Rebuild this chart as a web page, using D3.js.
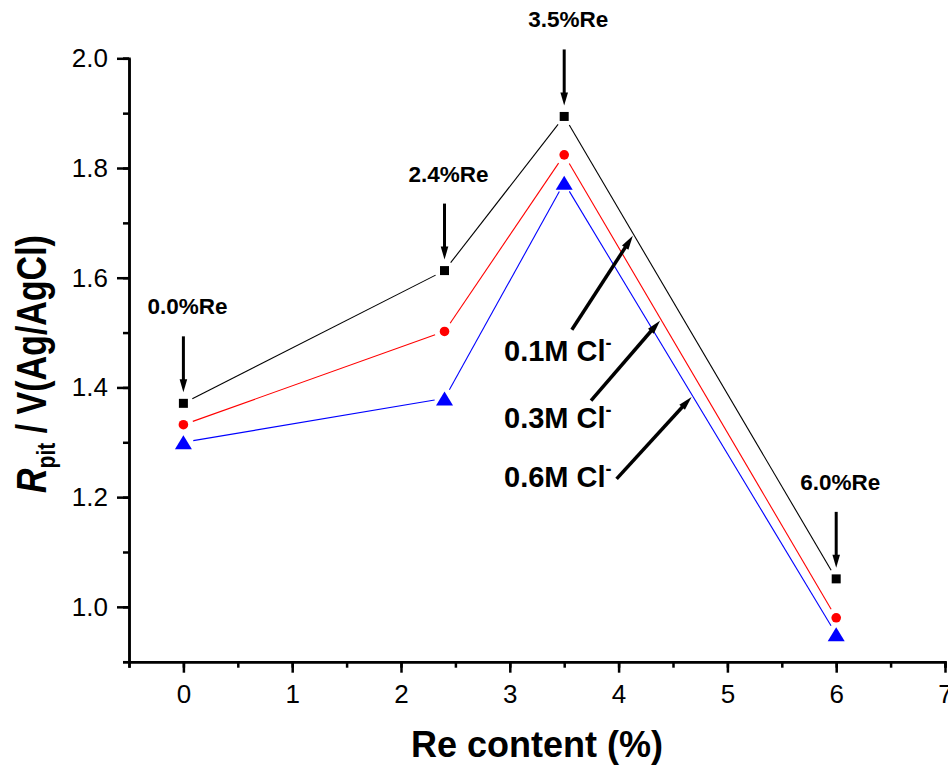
<!DOCTYPE html>
<html>
<head>
<meta charset="utf-8">
<script src="https://cdn.jsdelivr.net/npm/d3@7"></script>
<style>
  html, body { margin: 0; padding: 0; background: #fff; }
  svg { display: block; font-family: "Liberation Sans", Arial, sans-serif; }
</style>
</head>
<body>
<svg id="chart" width="948" height="765"></svg>
<script>
// Re content of the alloys (%)
const reContent = [0, 2.4, 3.5, 6.0];
// Pitting potential for each chloride concentration
const rpit01 = [1.371, 1.613, 1.894, 1.051];
const rpit03 = [1.332, 1.502, 1.824, 0.980];
const rpit06 = [1.300, 1.380, 1.773, 0.950];
const seriesNames = ["0.1M Cl", "0.3M Cl", "0.6M Cl"];
const reLabels = ["0.0%Re", "2.4%Re", "3.5%Re", "6.0%Re"];
// where each concentration label arrow touches its line (x in Re %)
const labelTargetX = [4.14, 4.39, 4.68];
const xTickValues = [0, 1, 2, 3, 4, 5, 6, 7];
const yTickValues = [1.0, 1.2, 1.4, 1.6, 1.8, 2.0];

const svg = d3.select("#chart");
const plot = { left: 129, right: 945, top: 58.3, bottom: 661.7 };

const x = d3.scaleLinear().domain([-0.5, 7]).range([plot.left, plot.right]);
const y = d3.scaleLinear().domain([0.9, 2.0]).range([plot.bottom, plot.top]);

const series = [
  { name: seriesNames[0], values: rpit01, color: "#000000", symbol: "square" },
  { name: seriesNames[1], values: rpit03, color: "#ff0000", symbol: "circle" },
  { name: seriesNames[2], values: rpit06, color: "#0000ff", symbol: "triangle" }
];

// ---- axes ----
const axisStroke = 2.5;
function styleAxis(g) {
  g.select(".domain").attr("stroke", "#000").attr("stroke-width", axisStroke);
  g.selectAll(".tick line").attr("stroke", "#000").attr("stroke-width", axisStroke);
  g.selectAll(".tick text")
    .attr("fill", "#000")
    .style("font-family", "'Liberation Sans', Arial, sans-serif")
    .style("font-size", "26px");
}

// minor ticks
svg.append("g")
  .attr("transform", `translate(0,${plot.bottom})`)
  .call(d3.axisBottom(x).tickValues(d3.range(-0.5, 7.01, 0.5)).tickSize(6).tickFormat(""))
  .call(styleAxis);
svg.append("g")
  .attr("transform", `translate(${plot.left},0)`)
  .call(d3.axisLeft(y).tickValues(d3.range(0.9, 2.001, 0.1)).tickSize(6).tickFormat(""))
  .call(styleAxis);

// major ticks with labels
svg.append("g")
  .attr("transform", `translate(0,${plot.bottom})`)
  .call(d3.axisBottom(x).tickValues(xTickValues).tickSize(11).tickSizeOuter(0).tickPadding(12).tickFormat(d3.format("d")))
  .call(styleAxis);
svg.append("g")
  .attr("transform", `translate(${plot.left},0)`)
  .call(d3.axisLeft(y).tickValues(yTickValues).tickSize(12).tickSizeOuter(0).tickPadding(9).tickFormat(d3.format(".1f")))
  .call(styleAxis);

// axis titles
svg.append("text")
  .attr("x", 537).attr("y", 757)
  .attr("text-anchor", "middle")
  .style("font-size", "36px").style("font-weight", "bold")
  .text("Re content (%)");

const yTitle = svg.append("text")
  .attr("transform", "translate(46,364) rotate(-90) scale(1,1.24)")
  .attr("text-anchor", "middle")
  .style("font-size", "34px").style("font-weight", "bold");
yTitle.append("tspan").style("font-style", "italic").text("R");
yTitle.append("tspan").attr("dy", 7).style("font-size", "21px").text("pit");
yTitle.append("tspan").attr("dy", -7).text(" / V(Ag/AgCl)");

// ---- series lines (with a small gap around each symbol) ----
const gap = 10;
series.forEach(s => {
  const pts = reContent.map((d, i) => [x(d), y(s.values[i])]);
  const segs = d3.pairs(pts).map(([a, b]) => {
    const dx = b[0] - a[0], dy = b[1] - a[1];
    const len = Math.hypot(dx, dy);
    const ux = dx / len, uy = dy / len;
    return [[a[0] + ux * gap, a[1] + uy * gap], [b[0] - ux * gap, b[1] - uy * gap]];
  });
  svg.append("g").selectAll("line").data(segs).join("line")
    .attr("x1", d => d[0][0]).attr("y1", d => d[0][1])
    .attr("x2", d => d[1][0]).attr("y2", d => d[1][1])
    .attr("stroke", s.color).attr("stroke-width", 1.1);
});

// ---- symbols ----
const symbolPaths = {
  square: "M-4.5,-4.5H4.5V4.5H-4.5Z",
  circle: d3.symbol(d3.symbolCircle, Math.PI * 4.8 * 4.8)(),
  triangle: "M0,-7L8.5,7L-8.5,7Z"
};
series.forEach(s => {
  svg.append("g").selectAll("path").data(reContent).join("path")
    .attr("transform", (d, i) => `translate(${x(d)},${y(s.values[i])})`)
    .attr("d", symbolPaths[s.symbol])
    .attr("fill", s.color);
});

// ---- arrows ----
function arrow(x1, y1, x2, y2, width, headLen, headHalf) {
  const dx = x2 - x1, dy = y2 - y1;
  const len = Math.hypot(dx, dy);
  const ux = dx / len, uy = dy / len;
  const bx = x2 - ux * headLen, by = y2 - uy * headLen;
  svg.append("line")
    .attr("x1", x1).attr("y1", y1).attr("x2", bx + ux * 2).attr("y2", by + uy * 2)
    .attr("stroke", "#000").attr("stroke-width", width);
  svg.append("path")
    .attr("d", `M${x2},${y2}L${bx - uy * headHalf},${by + ux * headHalf}L${bx + uy * headHalf},${by - ux * headHalf}Z`)
    .attr("fill", "#000");
}

// Re content labels above the 0.1M points
reContent.forEach((d, i) => {
  const px = x(d), py = y(rpit01[i]);
  const tip = py - 11, top = tip - 56;
  arrow(px, top, px, tip, 3, 13, 3.8);
  svg.append("text")
    .attr("x", px + 4).attr("y", top - 22)
    .attr("text-anchor", "middle")
    .style("font-size", "22.5px").style("font-weight", "bold")
    .text(reLabels[i]);
});

// concentration labels pointing at the descending lines
const labelLayout = [
  { tx: 504, ty: 361, dx: -62, dy: 95 },
  { tx: 504, ty: 428, dx: -70, dy: 81 },
  { tx: 504, ty: 487, dx: -76, dy: 83 }
];
series.forEach((s, k) => {
  const lx = labelTargetX[k];
  const yv = s.values[2] + (s.values[3] - s.values[2]) * (lx - reContent[2]) / (reContent[3] - reContent[2]);
  const px = x(lx), py = y(yv);
  const L = labelLayout[k];
  arrow(px + L.dx, py + L.dy, px - 1, py + 1, 3.5, 14, 3.8);
  const t = svg.append("text")
    .attr("x", L.tx).attr("y", L.ty)
    .style("font-size", "29px").style("font-weight", "bold");
  t.append("tspan").text(s.name);
  t.append("tspan").attr("dy", -12).style("font-size", "18px").text("-");
});
</script>
</body>
</html>
